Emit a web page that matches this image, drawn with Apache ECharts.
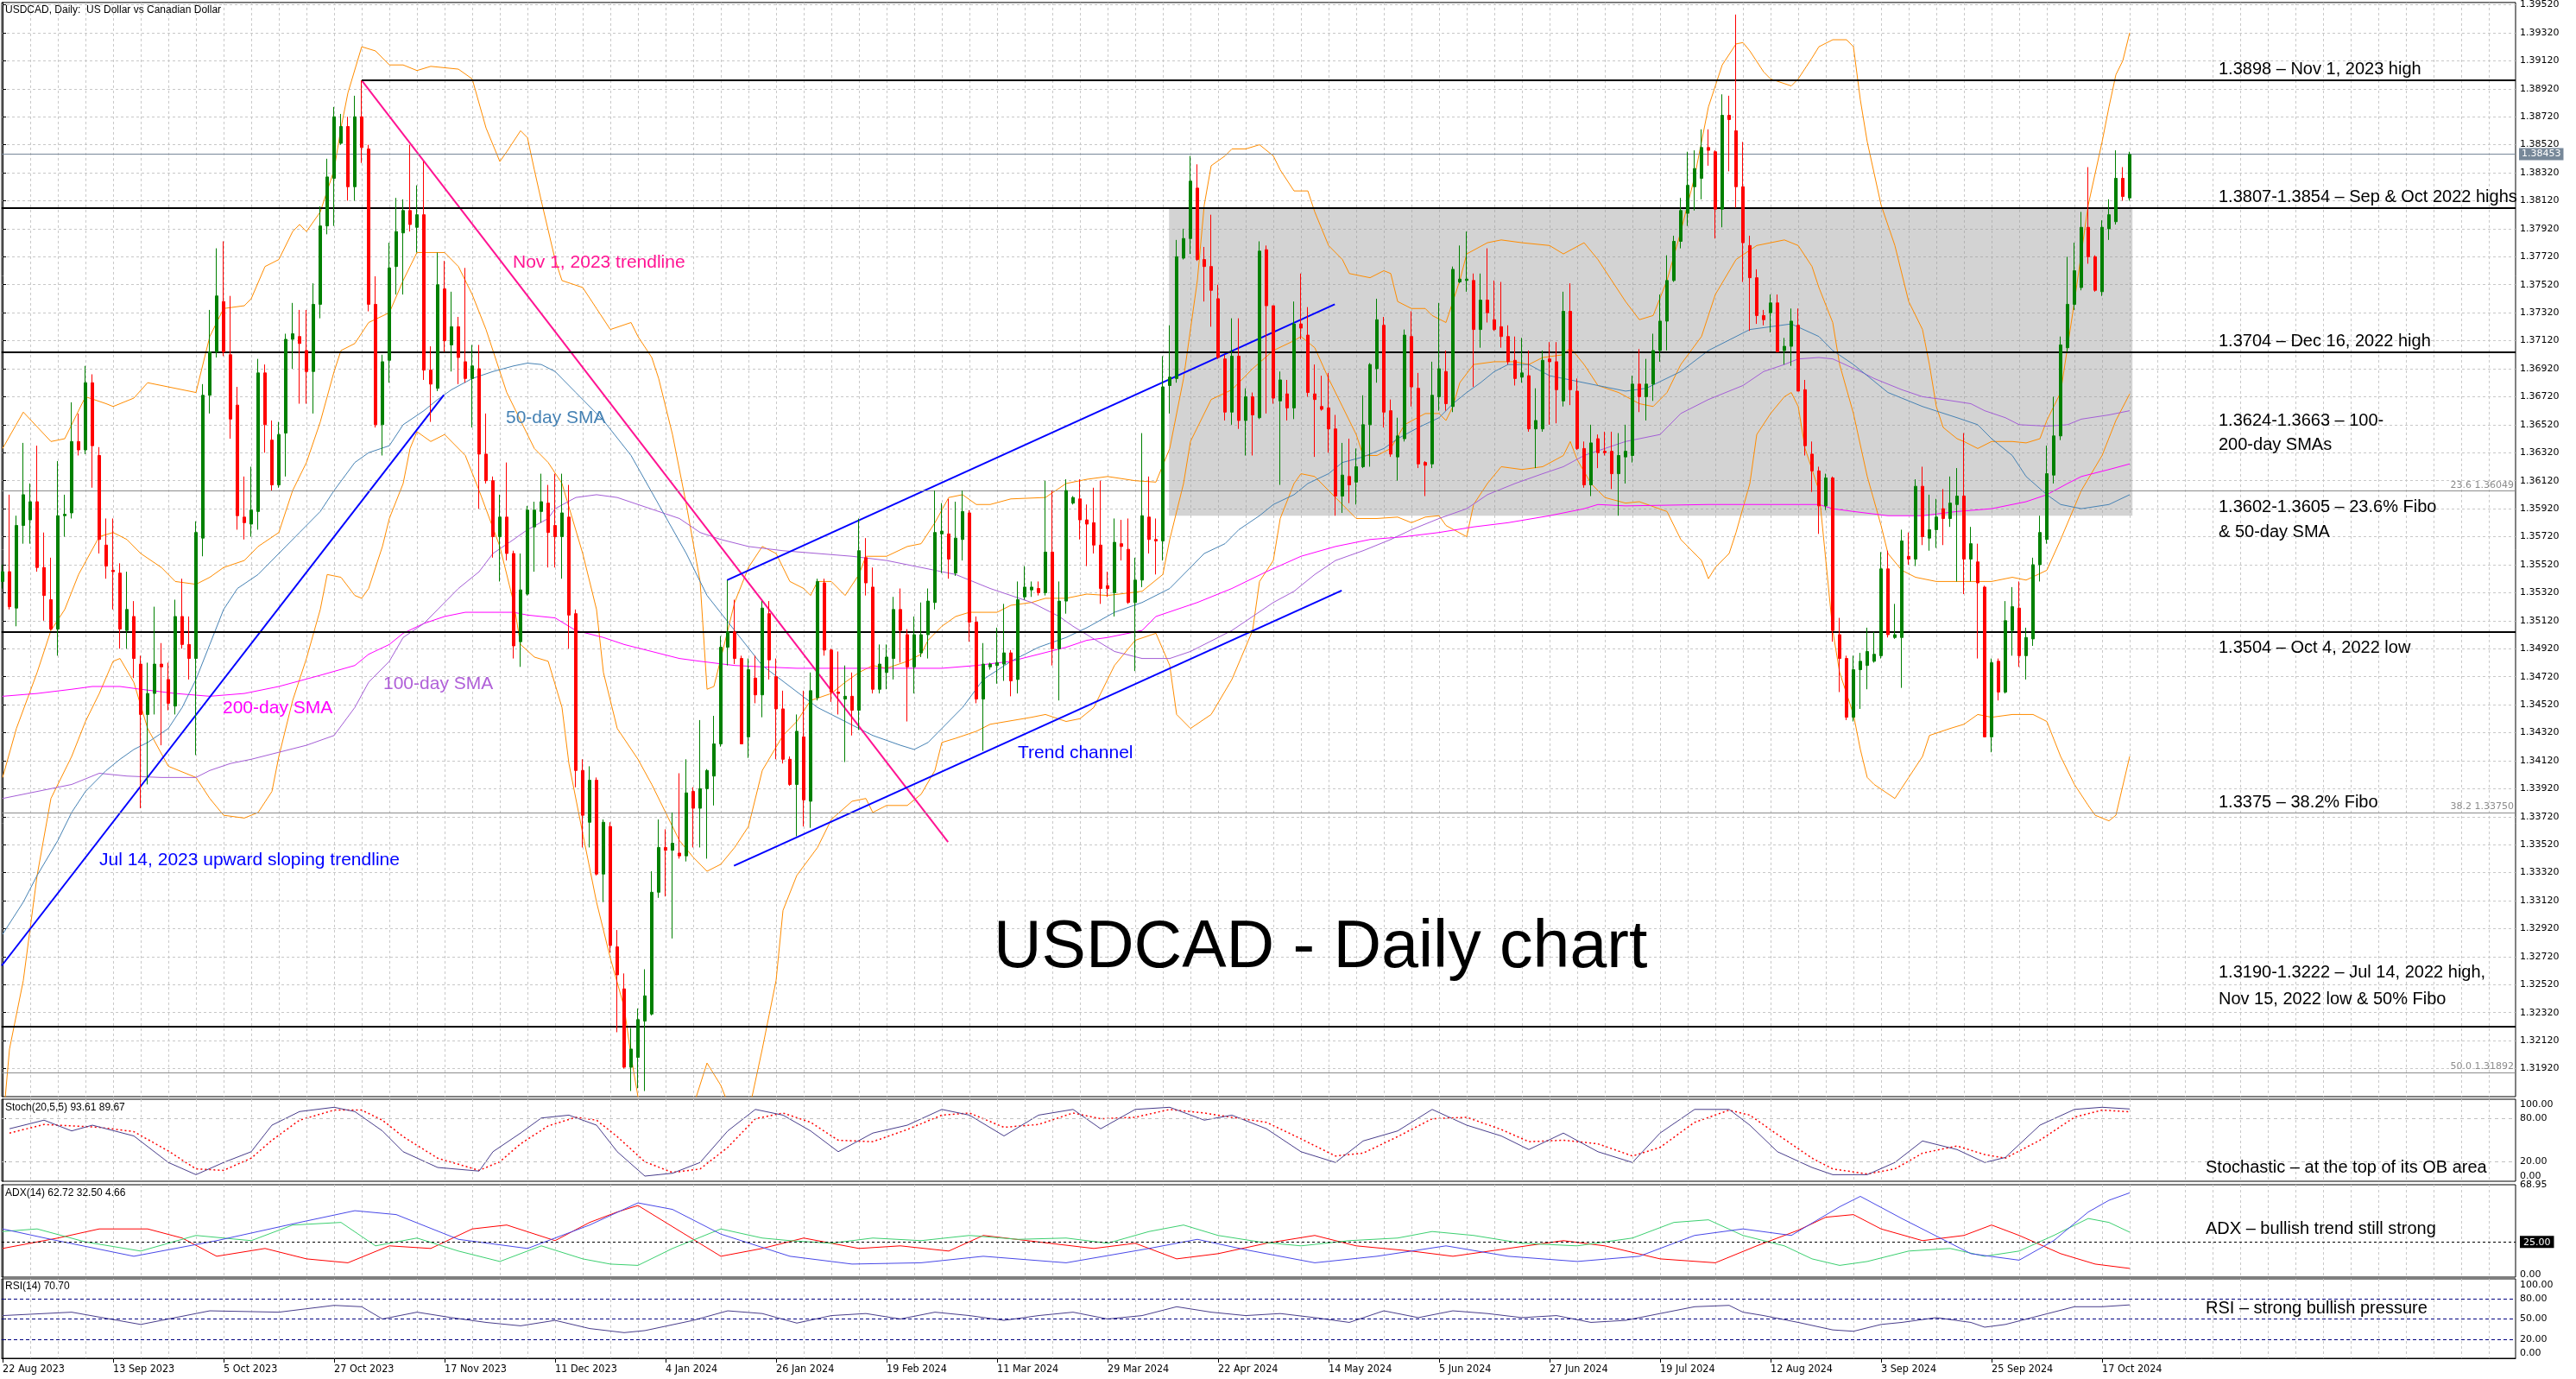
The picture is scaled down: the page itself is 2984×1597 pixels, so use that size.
<!DOCTYPE html>
<html><head><meta charset="utf-8">
<script src="https://cdn.jsdelivr.net/npm/echarts@6/dist/echarts.min.js"></script>
<style>html,body{margin:0;padding:0;background:#fff}#c{width:2984px;height:1597px}</style>
</head><body><div id="c"></div>
<script>
// ---------- DATA ----------
const tickLabels = ['22 Aug 2023','13 Sep 2023','5 Oct 2023','27 Oct 2023','17 Nov 2023','11 Dec 2023','4 Jan 2024','26 Jan 2024','19 Feb 2024','11 Mar 2024','29 Mar 2024','22 Apr 2024','14 May 2024','5 Jun 2024','27 Jun 2024','19 Jul 2024','12 Aug 2024','3 Sep 2024','25 Sep 2024','17 Oct 2024'];
const tickIdx = [0,16,32,48,64,80,96,112,128,144,160,176,192,208,224,240,256,272,288,304];
const yTicks = [1.3192,1.3212,1.3232,1.3252,1.3272,1.3292,1.3312,1.3332,1.3352,1.3372,1.3392,1.3412,1.3432,1.3452,1.3472,1.3492,1.3512,1.3532,1.3552,1.3572,1.3592,1.3612,1.3632,1.3652,1.3672,1.3692,1.3712,1.3732,1.3752,1.3772,1.3792,1.3812,1.3832,1.3852,1.3872,1.3892,1.3912,1.3932,1.3952];

// daily candles [open, close, low, high]
const ohlc = [
[1.3540,1.3547,1.3535,1.3552],[1.3547,1.3522,1.3520,1.3602],[1.3521,1.3580,1.3508,1.3587],[1.3580,1.3602,1.3567,1.3639],[1.3584,1.3597,1.3567,1.3610],
[1.3597,1.3550,1.3547,1.3637],[1.3550,1.3530,1.3512,1.3575],[1.3527,1.3506,1.3505,1.3557],[1.3506,1.3587,1.3487,1.3626],[1.3587,1.3588,1.3572,1.3602],
[1.3589,1.3640,1.3585,1.3668],[1.3640,1.3634,1.3630,1.3660],[1.3634,1.3682,1.3631,1.3694],[1.3682,1.3637,1.3607,1.3688],[1.3630,1.3570,1.3560,1.3636],
[1.3566,1.3551,1.3542,1.3585],[1.3548,1.3547,1.3520,1.3585],[1.3546,1.3506,1.3492,1.3553],[1.3505,1.3520,1.3492,1.3547],[1.3515,1.3485,1.3471,1.3526],
[1.3481,1.3445,1.3378,1.3487],[1.3445,1.3460,1.3395,1.3482],[1.3460,1.3481,1.3445,1.3522],[1.3481,1.3479,1.3423,1.3496],[1.3470,1.3453,1.3448,1.3482],
[1.3451,1.3515,1.3445,1.3527],[1.3515,1.3495,1.3492,1.3542],[1.3495,1.3485,1.3470,1.3515],[1.3485,1.3575,1.3416,1.3583],[1.3571,1.3673,1.3558,1.3681],
[1.3673,1.3704,1.3660,1.3734],[1.3704,1.3744,1.3700,1.3778],[1.3740,1.3704,1.3701,1.3783],[1.3702,1.3656,1.3642,1.3744],[1.3666,1.3587,1.3577,1.3679],
[1.3586,1.3582,1.3570,1.3615],[1.3581,1.3591,1.3572,1.3622],[1.3590,1.3689,1.3577,1.3699],[1.3689,1.3652,1.3632,1.3695],[1.3641,1.3609,1.3605,1.3655],
[1.3609,1.3645,1.3607,1.3654],[1.3646,1.3713,1.3615,1.3717],[1.3713,1.3717,1.3692,1.3739],[1.3715,1.3710,1.3667,1.3734],[1.3705,1.3690,1.3667,1.3734],
[1.3690,1.3738,1.3660,1.3753],[1.3738,1.3794,1.3728,1.3808],[1.3794,1.3829,1.3788,1.3842],[1.3828,1.3872,1.3794,1.3879],[1.3853,1.3865,1.3852,1.3874],
[1.3865,1.3822,1.3812,1.3872],[1.3822,1.3872,1.3812,1.3887],[1.3872,1.3850,1.3839,1.3898],[1.3849,1.3738,1.3733,1.3852],[1.3738,1.3652,1.3650,1.3758],
[1.3652,1.3697,1.3630,1.3702],[1.3698,1.3764,1.3682,1.3782],[1.3765,1.3790,1.3745,1.3814],[1.3789,1.3805,1.3745,1.3813],[1.3805,1.3795,1.3790,1.3852],
[1.3793,1.3802,1.3775,1.3823],[1.3802,1.3691,1.3684,1.3840],[1.3691,1.3681,1.3654,1.3708],[1.3678,1.3752,1.3676,1.3775],[1.3749,1.3712,1.3704,1.3769],
[1.3709,1.3722,1.3690,1.3747],[1.3722,1.3700,1.3681,1.3729],[1.3697,1.3685,1.3682,1.3764],[1.3685,1.3694,1.3650,1.3709],[1.3692,1.3631,1.3592,1.3709],
[1.3631,1.3612,1.3610,1.3660],[1.3612,1.3572,1.3557,1.3615],[1.3572,1.3586,1.3540,1.3602],[1.3586,1.3560,1.3555,1.3625],[1.3560,1.3494,1.3485,1.3562],
[1.3497,1.3534,1.3479,1.3560],[1.3531,1.3591,1.3530,1.3594],[1.3579,1.3591,1.3547,1.3597],[1.3590,1.3597,1.3582,1.3617],[1.3596,1.3575,1.3550,1.3609],
[1.3580,1.3572,1.3550,1.3617],[1.3572,1.3589,1.3542,1.3617],[1.3586,1.3516,1.3492,1.3609],[1.3517,1.3405,1.3393,1.3520],[1.3405,1.3373,1.3350,1.3413],
[1.3368,1.3398,1.3350,1.3408],[1.3398,1.3331,1.3330,1.3400],[1.3331,1.3368,1.3311,1.3370],[1.3365,1.3280,1.3275,1.3368],[1.3279,1.3259,1.3218,1.3291],
[1.3249,1.3193,1.3192,1.3260],[1.3193,1.3206,1.3176,1.3221],[1.3200,1.3227,1.3178,1.3235],[1.3226,1.3244,1.3176,1.3263],[1.3231,1.3318,1.3230,1.3333],
[1.3318,1.3350,1.3314,1.3370],[1.3350,1.3348,1.3315,1.3363],[1.3348,1.3353,1.3285,1.3375],[1.3346,1.3344,1.3342,1.3403],[1.3344,1.3389,1.3340,1.3413],
[1.3390,1.3378,1.3350,1.3393],[1.3378,1.3392,1.3350,1.3441],[1.3392,1.3405,1.3342,1.3406],[1.3401,1.3424,1.3380,1.3444],[1.3424,1.3493,1.3422,1.3501],
[1.3493,1.3504,1.3480,1.3541],[1.3504,1.3485,1.3481,1.3527],[1.3485,1.3424,1.3424,1.3487],[1.3429,1.3477,1.3414,1.3485],[1.3471,1.3459,1.3453,1.3487],
[1.3459,1.3521,1.3443,1.3526],[1.3517,1.3484,1.3470,1.3526],[1.3472,1.3449,1.3413,1.3485],[1.3449,1.3413,1.3410,1.3462],[1.3413,1.3395,1.3394,1.3415],
[1.3395,1.3433,1.3358,1.3445],[1.3429,1.3384,1.3365,1.3462],[1.3383,1.3462,1.3364,1.3475],[1.3457,1.3540,1.3455,1.3542],[1.3539,1.3491,1.3487,1.3542],
[1.3491,1.3461,1.3454,1.3492],[1.3461,1.3460,1.3445,1.3490],[1.3456,1.3458,1.3411,1.3480],[1.3458,1.3448,1.3430,1.3475],[1.3448,1.3562,1.3434,1.3585],
[1.3557,1.3539,1.3530,1.3571],[1.3536,1.3463,1.3460,1.3550],[1.3463,1.3481,1.3460,1.3495],[1.3475,1.3486,1.3463,1.3495],[1.3485,1.3520,1.3470,1.3529],
[1.3520,1.3505,1.3482,1.3535],[1.3502,1.3479,1.3440,1.3506],[1.3479,1.3502,1.3460,1.3515],[1.3489,1.3502,1.3486,1.3525],[1.3502,1.3526,1.3485,1.3535],
[1.3525,1.3575,1.3520,1.3605],[1.3574,1.3576,1.3546,1.3596],[1.3574,1.3556,1.3542,1.3599],[1.3546,1.3571,1.3544,1.3597],[1.3570,1.3590,1.3555,1.3605],
[1.3589,1.3511,1.3497,1.3591],[1.3511,1.3456,1.3453,1.3515],[1.3456,1.3481,1.3419,1.3496],[1.3479,1.3481,1.3477,1.3482],[1.3480,1.3482,1.3467,1.3507],
[1.3481,1.3489,1.3469,1.3524],[1.3489,1.3469,1.3458,1.3491],[1.3470,1.3527,1.3460,1.3540],[1.3529,1.3536,1.3527,1.3551],[1.3534,1.3536,1.3529,1.3540],
[1.3535,1.3532,1.3530,1.3540],[1.3532,1.3561,1.3530,1.3612],[1.3561,1.3492,1.3480,1.3605],[1.3492,1.3526,1.3455,1.3540],[1.3526,1.3605,1.3517,1.3613],
[1.3596,1.3600,1.3595,1.3601],[1.3599,1.3584,1.3570,1.3613],[1.3584,1.3581,1.3551,1.3595],[1.3582,1.3566,1.3560,1.3607],[1.3566,1.3535,1.3524,1.3612],
[1.3537,1.3535,1.3529,1.3547],[1.3532,1.3568,1.3515,1.3585],[1.3567,1.3565,1.3555,1.3584],[1.3563,1.3525,1.3524,1.3585],[1.3525,1.3541,1.3476,1.3557],
[1.3541,1.3587,1.3536,1.3646],[1.3586,1.3570,1.3560,1.3615],[1.3570,1.3569,1.3545,1.3585],[1.3569,1.3679,1.3555,1.3701],[1.3680,1.3686,1.3660,1.3723],
[1.3685,1.3772,1.3682,1.3784],[1.3771,1.3785,1.3770,1.3792],[1.3785,1.3826,1.3774,1.3844],[1.3821,1.3770,1.3769,1.3838],[1.3770,1.3765,1.3740,1.3779],
[1.3765,1.3748,1.3722,1.3802],[1.3742,1.3700,1.3699,1.3752],[1.3699,1.3661,1.3655,1.3702],[1.3661,1.3701,1.3652,1.3728],[1.3701,1.3655,1.3649,1.3728],
[1.3655,1.3672,1.3630,1.3678],[1.3672,1.3659,1.3630,1.3675],[1.3657,1.3776,1.3656,1.3783],[1.3777,1.3737,1.3660,1.3780],[1.3737,1.3671,1.3667,1.3737],
[1.3669,1.3684,1.3609,1.3690],[1.3674,1.3664,1.3655,1.3684],[1.3664,1.3724,1.3656,1.3740],[1.3724,1.3721,1.3713,1.3760],[1.3716,1.3675,1.3672,1.3736],
[1.3674,1.3670,1.3629,1.3695],[1.3665,1.3663,1.3662,1.3687],[1.3664,1.3649,1.3632,1.3689],[1.3649,1.3601,1.3587,1.3659],[1.3601,1.3616,1.3589,1.3639],
[1.3615,1.3609,1.3596,1.3642],[1.3611,1.3622,1.3595,1.3635],[1.3622,1.3652,1.3621,1.3673],[1.3652,1.3695,1.3622,1.3696],[1.3692,1.3727,1.3682,1.3742],
[1.3723,1.3661,1.3650,1.3729],[1.3662,1.3631,1.3629,1.3670],[1.3629,1.3644,1.3612,1.3657],[1.3642,1.3716,1.3640,1.3720],[1.3715,1.3679,1.3665,1.3733],
[1.3678,1.3624,1.3621,1.3689],[1.3625,1.3623,1.3601,1.3626],[1.3624,1.3673,1.3621,1.3697],[1.3672,1.3692,1.3662,1.3739],[1.3690,1.3667,1.3662,1.3705],
[1.3665,1.3763,1.3661,1.3765],[1.3754,1.3756,1.3753,1.3780],[1.3755,1.3756,1.3747,1.3790],[1.3755,1.3720,1.3679,1.3760],[1.3720,1.3741,1.3707,1.3760],
[1.3741,1.3732,1.3725,1.3778],[1.3727,1.3720,1.3719,1.3755],[1.3722,1.3715,1.3707,1.3754],[1.3715,1.3697,1.3695,1.3723],[1.3698,1.3685,1.3680,1.3715],
[1.3686,1.3689,1.3682,1.3714],[1.3687,1.3649,1.3647,1.3705],[1.3649,1.3655,1.3621,1.3678],[1.3649,1.3698,1.3647,1.3705],[1.3699,1.3697,1.3652,1.3711],
[1.3697,1.3677,1.3653,1.3711],[1.3669,1.3733,1.3665,1.3747],[1.3733,1.3677,1.3666,1.3753],[1.3676,1.3635,1.3634,1.3685],[1.3635,1.3609,1.3607,1.3640],
[1.3609,1.3639,1.3601,1.3652],[1.3642,1.3632,1.3621,1.3645],[1.3633,1.3632,1.3630,1.3647],[1.3633,1.3617,1.3606,1.3647],[1.3617,1.3630,1.3587,1.3646],
[1.3629,1.3633,1.3610,1.3652],[1.3630,1.3681,1.3625,1.3687],[1.3681,1.3672,1.3661,1.3706],[1.3672,1.3681,1.3655,1.3699],[1.3681,1.3705,1.3669,1.3717],
[1.3705,1.3726,1.3697,1.3745],[1.3726,1.3755,1.3705,1.3773],[1.3755,1.3783,1.3754,1.3787],[1.3783,1.3805,1.3778,1.3814],[1.3803,1.3823,1.3794,1.3847],
[1.3822,1.3835,1.3805,1.3848],[1.3828,1.3850,1.3813,1.3863],[1.3850,1.3848,1.3837,1.3863],[1.3847,1.3806,1.3785,1.3848],[1.3806,1.3873,1.3793,1.3888],
[1.3873,1.3870,1.3833,1.3887],[1.3862,1.3822,1.3807,1.3945],[1.3822,1.3782,1.3754,1.3854],[1.3780,1.3757,1.3719,1.3787],[1.3757,1.3730,1.3724,1.3763],
[1.3730,1.3727,1.3723,1.3734],[1.3732,1.3739,1.3718,1.3745],[1.3739,1.3704,1.3704,1.3745],[1.3705,1.3708,1.3695,1.3714],[1.3708,1.3726,1.3694,1.3735],
[1.3723,1.3676,1.3676,1.3735],[1.3677,1.3637,1.3630,1.3684],[1.3631,1.3619,1.3604,1.3640],[1.3619,1.3594,1.3574,1.3622],[1.3594,1.3614,1.3591,1.3617],
[1.3614,1.3505,1.3497,1.3615],[1.3502,1.3485,1.3461,1.3514],[1.3485,1.3443,1.3441,1.3487],[1.3443,1.3477,1.3440,1.3487],[1.3477,1.3483,1.3449,1.3489],
[1.3480,1.3490,1.3463,1.3507],[1.3483,1.3488,1.3482,1.3504],[1.3487,1.3549,1.3485,1.3561],[1.3549,1.3502,1.3500,1.3562],[1.3500,1.3502,1.3499,1.3524],
[1.3500,1.3569,1.3464,1.3577],[1.3558,1.3556,1.3552,1.3575],[1.3556,1.3608,1.3551,1.3613],[1.3608,1.3572,1.3566,1.3622],[1.3571,1.3577,1.3562,1.3602],
[1.3577,1.3586,1.3564,1.3599],[1.3592,1.3585,1.3566,1.3606],[1.3585,1.3596,1.3579,1.3615],[1.3595,1.3601,1.3540,1.3621],[1.3601,1.3556,1.3531,1.3646],
[1.3556,1.3567,1.3540,1.3579],[1.3554,1.3539,1.3485,1.3567],[1.3536,1.3429,1.3429,1.3537],[1.3429,1.3482,1.3418,1.3485],[1.3483,1.3461,1.3455,1.3485],
[1.3461,1.3512,1.3460,1.3526],[1.3505,1.3522,1.3487,1.3536],[1.3521,1.3487,1.3479,1.3540],[1.3487,1.3500,1.3470,1.3507],[1.3499,1.3552,1.3494,1.3557],
[1.3552,1.3575,1.3540,1.3587],[1.3570,1.3617,1.3567,1.3637],[1.3616,1.3644,1.3610,1.3672],[1.3644,1.3709,1.3641,1.3715],[1.3707,1.3738,1.3704,1.3772],
[1.3738,1.3762,1.3734,1.3782],[1.3750,1.3793,1.3748,1.3804],[1.3793,1.3772,1.3767,1.3836],[1.3772,1.3748,1.3747,1.3773],[1.3747,1.3793,1.3744,1.3798],
[1.3792,1.3802,1.3784,1.3813],[1.3797,1.3828,1.3795,1.3848],[1.3828,1.3815,1.3812,1.3836],[1.3814,1.3845,1.3812,1.3847]
];

// Bollinger bands (20,2) read as [bar, price]
const bbUpper = [[0,1.3635],[3,1.3661],[7,1.3640],[9,1.3642],[12,1.3672],[15,1.3667],[16,1.3665],[19,1.3671],[21,1.3682],[22,1.3681],[28,1.3675],[30,1.3715],[32,1.3735],[35,1.3737],[36,1.3742],[38,1.3765],[40,1.3770],[42,1.3790],[43,1.3795],[44,1.3790],[46,1.3804],[48,1.3834],[49,1.3864],[50,1.3889],[52,1.3922],[54,1.3919],[56,1.3909],[58,1.3909],[60,1.3905],[62,1.3908],[64,1.3907],[66,1.3906],[68,1.3899],[70,1.3864],[72,1.3840],[73,1.3847],[75,1.3862],[76,1.3857],[77,1.3834],[78,1.3812],[80,1.3770],[81,1.3755],[84,1.3750],[86,1.3735],[88,1.3720],[91,1.3725],[92,1.3715],[94,1.3700],[95,1.3685],[97,1.3645],[99,1.3595],[101,1.3540],[102,1.3463],[103,1.3465],[105,1.3505],[106,1.3525],[108,1.3550],[110,1.3565],[112,1.3560],[113,1.3550],[114,1.3540],[116,1.3535],[117,1.3530],[118,1.3540],[120,1.3540],[122,1.3530],[124,1.3545],[125,1.3558],[128,1.3558],[131,1.3565],[133,1.3567],[135,1.3582],[137,1.3600],[139,1.3602],[141,1.3595],[143,1.3595],[146,1.3599],[151,1.3600],[154,1.3610],[157,1.3613],[160,1.3615],[164,1.3612],[167,1.3611],[169,1.3635],[171,1.3685],[173,1.3755],[174,1.3809],[175,1.3837],[177,1.3844],[178,1.3849],[180,1.3849],[182,1.3852],[184,1.3844],[185,1.3834],[187,1.3819],[189,1.3819],[190,1.3804],[192,1.3780],[194,1.3770],[195,1.3760],[198,1.3757],[200,1.3762],[201,1.3760],[202,1.3740],[204,1.3735],[206,1.3735],[207,1.3730],[209,1.3725],[211,1.3755],[212,1.3774],[215,1.3782],[217,1.3784],[220,1.3782],[224,1.3780],[226,1.3774],[229,1.3782],[231,1.3770],[233,1.3755],[235,1.3740],[237,1.3727],[239,1.3730],[241,1.3755],[243,1.3790],[245,1.3829],[247,1.3879],[249,1.3909],[251,1.3924],[252,1.3925],[253,1.3919],[255,1.3904],[256,1.3899],[259,1.3894],[260,1.3899],[262,1.3914],[263,1.3922],[265,1.3927],[267,1.3927],[268,1.3922],[269,1.3884],[270,1.3854],[272,1.3809],[274,1.3780],[276,1.3740],[278,1.3720],[279,1.3695],[280,1.3665],[281,1.3650],[283,1.3642],[284,1.3640],[286,1.3635],[288,1.3640],[291,1.3640],[293,1.3639],[295,1.3642],[296,1.3655],[298,1.3675],[300,1.3740],[302,1.3809],[304,1.3854],[305,1.3879],[306,1.3902],[307,1.3912],[308,1.3932]];
const bbMid = [[0,1.3400],[2,1.3435],[5,1.3475],[7,1.3505],[9,1.3520],[11,1.3545],[14,1.3572],[16,1.3575],[18,1.3570],[20,1.3560],[23,1.3550],[25,1.3540],[28,1.3538],[30,1.3543],[32,1.3550],[35,1.3555],[37,1.3565],[40,1.3575],[42,1.3605],[44,1.3625],[46,1.3654],[48,1.3690],[49,1.3705],[51,1.3710],[53,1.3725],[56,1.3732],[58,1.3755],[60,1.3775],[64,1.3775],[66,1.3765],[68,1.3745],[70,1.3720],[73,1.3675],[77,1.3635],[79,1.3625],[81,1.3610],[84,1.3560],[86,1.3520],[87,1.3475],[89,1.3435],[92,1.3413],[94,1.3395],[96,1.3375],[98,1.3355],[100,1.3343],[102,1.3333],[104,1.3338],[106,1.3350],[108,1.3365],[110,1.3405],[113,1.3430],[115,1.3440],[117,1.3455],[120,1.3460],[122,1.3468],[124,1.3475],[126,1.3480],[128,1.3478],[131,1.3483],[133,1.3488],[134,1.3498],[136,1.3508],[138,1.3515],[140,1.3518],[144,1.3518],[146,1.3523],[149,1.3525],[151,1.3528],[154,1.3528],[157,1.3531],[160,1.3530],[165,1.3533],[168,1.3545],[169,1.3570],[171,1.3610],[172,1.3640],[175,1.3670],[178,1.3677],[181,1.3692],[184,1.3705],[187,1.3712],[188,1.3715],[190,1.3707],[192,1.3685],[194,1.3665],[196,1.3645],[197,1.3630],[199,1.3630],[201,1.3635],[203,1.3652],[206,1.3660],[208,1.3660],[209,1.3655],[210,1.3665],[211,1.3682],[213,1.3695],[216,1.3697],[219,1.3697],[221,1.3695],[223,1.3700],[226,1.3702],[227,1.3707],[229,1.3695],[231,1.3680],[234,1.3675],[237,1.3667],[239,1.3665],[241,1.3675],[243,1.3695],[246,1.3715],[248,1.3745],[251,1.3770],[254,1.3780],[256,1.3782],[258,1.3784],[260,1.3780],[262,1.3765],[263,1.3750],[265,1.3725],[266,1.3695],[268,1.3660],[270,1.3615],[272,1.3580],[273,1.3560],[275,1.3548],[277,1.3543],[280,1.3540],[283,1.3540],[288,1.3540],[291,1.3543],[293,1.3541],[296,1.3548],[298,1.3570],[301,1.3605],[304,1.3630],[306,1.3655],[308,1.3674]];
const bbLower = [[0,1.3150],[1,1.3206],[3,1.3255],[5,1.3330],[7,1.3385],[10,1.3415],[12,1.3440],[14,1.3460],[16,1.3483],[17,1.3485],[19,1.3468],[21,1.3435],[24,1.3408],[28,1.3400],[30,1.3385],[32,1.3373],[35,1.3371],[37,1.3375],[39,1.3390],[40,1.3415],[42,1.3455],[44,1.3485],[46,1.3520],[47,1.3545],[49,1.3543],[51,1.3530],[52,1.3528],[53,1.3535],[55,1.3565],[56,1.3585],[58,1.3610],[59,1.3635],[60,1.3647],[62,1.3640],[64,1.3645],[67,1.3630],[69,1.3605],[72,1.3565],[74,1.3525],[75,1.3495],[77,1.3486],[79,1.3483],[81,1.3450],[82,1.3410],[84,1.3360],[86,1.3311],[88,1.3271],[90,1.3236],[91,1.3201],[92,1.3172],[94,1.3145],[97,1.3135],[100,1.3165],[102,1.3196],[104,1.3180],[106,1.3155],[108,1.3160],[110,1.3206],[112,1.3255],[113,1.3305],[115,1.3330],[118,1.3350],[120,1.3370],[123,1.3383],[125,1.3385],[126,1.3375],[128,1.3380],[131,1.3380],[133,1.3388],[135,1.3405],[136,1.3425],[138,1.3428],[141,1.3433],[143,1.3438],[149,1.3443],[151,1.3445],[154,1.3440],[156,1.3442],[158,1.3450],[161,1.3480],[164,1.3498],[167,1.3503],[169,1.3480],[170,1.3445],[172,1.3435],[175,1.3445],[178,1.3470],[181,1.3505],[182,1.3540],[184,1.3555],[185,1.3585],[187,1.3610],[188,1.3617],[190,1.3615],[192,1.3605],[194,1.3595],[196,1.3585],[199,1.3585],[202,1.3586],[204,1.3582],[206,1.3586],[208,1.3587],[209,1.3580],[212,1.3572],[213,1.3595],[215,1.3610],[217,1.3622],[220,1.3620],[223,1.3622],[226,1.3630],[227,1.3640],[228,1.3627],[230,1.3610],[232,1.3600],[235,1.3596],[237,1.3597],[241,1.3590],[243,1.3570],[246,1.3555],[247,1.3542],[248,1.3550],[250,1.3560],[251,1.3575],[253,1.3610],[254,1.3645],[256,1.3660],[258,1.3672],[259,1.3675],[260,1.3665],[261,1.3635],[263,1.3605],[264,1.3555],[265,1.3505],[266,1.3475],[268,1.3445],[269,1.3420],[270,1.3400],[271,1.3395],[274,1.3385],[276,1.3400],[278,1.3415],[279,1.3430],[282,1.3435],[284,1.3438],[286,1.3445],[288,1.3443],[291,1.3445],[294,1.3445],[296,1.3440],[298,1.3415],[300,1.3395],[302,1.3380],[303,1.3373],[305,1.3369],[306,1.3373],[308,1.3415]];

// moving averages [bar, price]
const sma50 = [[0,1.3288],[3,1.3311],[5,1.3330],[8,1.3355],[10,1.3375],[12,1.3390],[15,1.3405],[17,1.3413],[19,1.3420],[21,1.3425],[24,1.3435],[26,1.3450],[28,1.3470],[30,1.3495],[32,1.3520],[34,1.3535],[37,1.3545],[39,1.3555],[41,1.3565],[43,1.3575],[46,1.3590],[48,1.3605],[51,1.3625],[53,1.3632],[56,1.3637],[58,1.3652],[61,1.3662],[63,1.3670],[65,1.3677],[68,1.3685],[71,1.3690],[74,1.3694],[76,1.3696],[78,1.3695],[80,1.3690],[83,1.3675],[87,1.3655],[91,1.3630],[95,1.3595],[99,1.3560],[102,1.3530],[106,1.3505],[110,1.3480],[114,1.3465],[118,1.3450],[122,1.3440],[126,1.3430],[130,1.3423],[132,1.3420],[134,1.3425],[136,1.3435],[139,1.3450],[142,1.3470],[146,1.3483],[150,1.3493],[154,1.3500],[157,1.3507],[161,1.3518],[165,1.3525],[169,1.3535],[172,1.3550],[174,1.3560],[177,1.3567],[179,1.3577],[182,1.3587],[184,1.3595],[187,1.3602],[189,1.3610],[192,1.3617],[194,1.3625],[197,1.3629],[200,1.3635],[202,1.3642],[205,1.3650],[208,1.3657],[210,1.3667],[212,1.3675],[214,1.3682],[216,1.3690],[218,1.3695],[221,1.3695],[224,1.3687],[226,1.3685],[229,1.3682],[231,1.3680],[235,1.3676],[238,1.3678],[243,1.3690],[247,1.3705],[253,1.3720],[256,1.3722],[259,1.3724],[263,1.3715],[265,1.3705],[268,1.3695],[273,1.3675],[278,1.3665],[283,1.3657],[286,1.3652],[288,1.3642],[291,1.3630],[293,1.3615],[296,1.3602],[298,1.3595],[301,1.3592],[305,1.3595],[308,1.3602]];
const sma100 = [[0,1.3385],[5,1.3390],[10,1.3395],[14,1.3403],[18,1.3401],[23,1.3400],[28,1.3400],[30,1.3405],[33,1.3410],[36,1.3413],[40,1.3418],[44,1.3423],[48,1.3430],[51,1.3450],[53,1.3468],[56,1.3483],[58,1.3500],[61,1.3510],[63,1.3520],[66,1.3535],[69,1.3547],[71,1.3560],[74,1.3570],[76,1.3577],[79,1.3585],[80,1.3592],[83,1.3600],[86,1.3602],[89,1.3600],[92,1.3595],[95,1.3590],[98,1.3585],[101,1.3575],[104,1.3570],[108,1.3565],[113,1.3562],[118,1.3560],[123,1.3558],[128,1.3555],[133,1.3550],[138,1.3545],[143,1.3535],[149,1.3525],[153,1.3515],[155,1.3508],[157,1.3502],[161,1.3490],[165,1.3485],[169,1.3485],[172,1.3490],[174,1.3495],[178,1.3505],[181,1.3515],[184,1.3525],[187,1.3533],[190,1.3545],[193,1.3555],[197,1.3562],[201,1.3570],[204,1.3577],[208,1.3585],[212,1.3592],[215,1.3602],[219,1.3610],[223,1.3617],[226,1.3622],[229,1.3630],[232,1.3635],[235,1.3640],[240,1.3645],[243,1.3660],[247,1.3670],[252,1.3680],[255,1.3690],[258,1.3695],[260,1.3699],[263,1.3700],[265,1.3699],[269,1.3690],[271,1.3685],[275,1.3677],[278,1.3672],[281,1.3670],[285,1.3667],[287,1.3662],[290,1.3657],[292,1.3652],[296,1.3651],[299,1.3652],[301,1.3656],[305,1.3659],[308,1.3662]];
const sma200 = [[0,1.3458],[5,1.3460],[10,1.3463],[13,1.3465],[17,1.3465],[20,1.3463],[25,1.3460],[30,1.3458],[35,1.3460],[40,1.3465],[46,1.3473],[51,1.3480],[53,1.3488],[56,1.3495],[58,1.3503],[61,1.3510],[64,1.3515],[67,1.3518],[71,1.3518],[74,1.3518],[76,1.3516],[80,1.3514],[83,1.3505],[87,1.3500],[90,1.3495],[94,1.3490],[98,1.3485],[101,1.3483],[106,1.3480],[110,1.3479],[115,1.3478],[121,1.3478],[126,1.3478],[131,1.3478],[136,1.3478],[141,1.3480],[146,1.3483],[150,1.3488],[154,1.3493],[157,1.3498],[160,1.3500],[165,1.3505],[167,1.3515],[173,1.3525],[178,1.3535],[183,1.3547],[188,1.3558],[193,1.3565],[198,1.3570],[203,1.3572],[208,1.3575],[213,1.3579],[218,1.3582],[224,1.3587],[229,1.3592],[231,1.3595],[235,1.3594],[247,1.3595],[263,1.3595],[265,1.3592],[268,1.3590],[273,1.3587],[278,1.3587],[283,1.3590],[288,1.3592],[293,1.3597],[296,1.3602],[299,1.3610],[301,1.3615],[305,1.3620],[308,1.3624]];

// drawn objects: [bar, price] endpoints
const julTrend = [[-0.125,1.32656],[63.9,1.36733]];
const novTrend = [[52,1.3898],[136.9,1.33539]];
const chanUpper = [[104.9,1.3541],[192.9,1.3738]];
const chanLower = [[105.9,1.33369],[193.9,1.35335]];
const boxZone = [[168.9,1.3587],[308.4,1.3807]];
const srLevels = [1.3807,1.3704,1.3504,1.3222];
const novHigh = [52,1.3898];
const fiboLevels = [[1.36049,'23.6 1.36049'],[1.33750,'38.2 1.33750'],[1.31892,'50.0 1.31892']];
const lastPrice = 1.38453;

// indicators [bar, value]
const stochK = [[1,66],[6,78],[10,63],[13,71],[19,56],[24,19],[28,2],[32,19],[36,34],[39,71],[43,90],[48,96],[51,90],[55,63],[58,34],[63,12],[69,7],[71,34],[75,60],[78,81],[82,85],[86,71],[89,34],[93,0],[97,4],[101,19],[105,63],[109,93],[113,85],[117,63],[121,34],[126,60],[131,71],[136,93],[140,85],[145,56],[150,85],[155,93],[159,66],[164,93],[169,96],[174,78],[178,85],[183,66],[188,34],[193,19],[197,49],[202,63],[207,93],[212,71],[217,56],[221,37],[226,60],[231,34],[236,19],[240,60],[245,93],[250,93],[253,71],[257,34],[262,12],[265,2],[270,2],[274,19],[278,49],[283,37],[287,19],[290,26],[295,71],[300,93],[304,96],[308,93.61]];
const stochD = [[1,60],[6,72],[10,70],[14,68],[19,62],[24,35],[28,10],[32,8],[36,25],[39,50],[43,78],[48,92],[52,92],[55,78],[58,55],[63,25],[69,8],[72,20],[75,45],[79,70],[83,82],[86,78],[89,55],[93,20],[97,5],[101,10],[105,40],[109,80],[113,88],[117,75],[121,50],[126,48],[131,65],[136,85],[140,88],[145,68],[150,72],[155,88],[159,80],[164,82],[169,93],[174,88],[178,82],[183,75],[188,52],[193,28],[197,32],[202,55],[207,80],[212,82],[217,65],[221,48],[226,50],[231,45],[236,28],[240,40],[245,75],[250,92],[253,85],[257,58],[262,25],[265,10],[270,3],[274,10],[278,32],[283,42],[287,30],[290,25],[295,50],[300,82],[304,92],[308,89.67]];
const adxMain = [[0,35],[7,27],[19,14],[31,26],[43,40],[51,49],[57,46],[66,27],[76,20],[85,38],[92,55],[97,50],[104,31],[114,14],[123,8],[133,9],[142,14],[154,9],[166,20],[173,27],[180,19],[190,9],[199,14],[209,22],[218,14],[228,10],[237,14],[245,30],[252,35],[259,30],[266,52],[269,60],[275,43],[285,16],[292,11],[297,26],[302,48],[305,57],[308,62.72]];
const adxPlus = [[0,33],[5,35],[12,25],[20,18],[28,30],[36,26],[42,38],[49,40],[54,22],[60,28],[66,18],[72,10],[78,22],[84,12],[88,8],[92,7],[97,20],[104,35],[110,28],[114,26],[120,24],[126,28],[133,26],[140,30],[147,27],[154,28],[160,24],[166,33],[171,38],[176,30],[182,25],[188,22],[195,26],[202,28],[207,33],[213,30],[220,24],[228,22],[236,28],[242,40],[247,42],[252,30],[258,22],[262,12],[266,7],[270,10],[276,18],[282,20],[287,14],[292,18],[297,30],[302,43],[305,40],[308,32.5]];
const adxMinus = [[0,20],[8,28],[14,35],[21,35],[26,28],[31,14],[38,20],[44,12],[50,9],[56,22],[62,20],[68,35],[73,38],[80,26],[85,40],[89,48],[92,53],[96,40],[104,14],[110,20],[116,28],[124,20],[130,22],[137,18],[142,30],[150,25],[158,20],[164,24],[170,12],[176,16],[183,24],[190,30],[196,22],[204,18],[210,14],[218,20],[226,26],[232,22],[240,12],[248,9],[254,22],[260,34],[264,44],[268,46],[272,35],[278,26],[284,30],[288,38],[292,30],[298,16],[303,8],[308,4.66]];
const rsi = [[0,55],[10,60],[20,42],[30,62],[40,60],[48,70],[52,68],[55,50],[60,60],[65,52],[70,45],[75,40],[80,48],[85,36],[90,30],[93,33],[100,48],[105,62],[110,58],[115,44],[120,55],[125,58],[130,50],[135,60],[140,55],[145,48],[150,55],[155,60],[160,50],[165,55],[170,68],[175,60],[180,55],[185,58],[190,52],[195,45],[200,62],[205,52],[210,62],[215,58],[220,52],[225,55],[230,45],[235,48],[240,58],[245,68],[250,70],[252,60],[255,55],[260,45],[265,34],[268,32],[272,42],[275,45],[280,52],[285,45],[287,38],[290,42],[295,55],[300,68],[304,68],[308,70.7]];

// ---------- CHART ----------
const chart = echarts.init(document.getElementById('c'), null, {renderer:'canvas', width:2984, height:1597});
const XMIN = -0.125, XMAX = 363.875;
const AX_FONT = 'DejaVu Sans';
const TXT_FONT = '"Liberation Sans", Arial, sans-serif';
const vgrid = []; for (let i = 0; i <= 360; i += 4) vgrid.push(i);

const gridBase = {left:2, right:70, show:true, borderColor:'#000', borderWidth:1, backgroundColor:'#fff'};
const grids = [
  Object.assign({top:1, height:1269}, gridBase),
  Object.assign({top:1273, height:95}, gridBase),
  Object.assign({top:1372, height:107}, gridBase),
  Object.assign({top:1481, height:92}, gridBase)
];
const dash = {color:'#c8c8c8', type:[3,3], width:1};
const xAxes = [0,1,2,3].map(k => ({
  type:'value', gridIndex:k, min:XMIN, max:XMAX,
  axisLine:{show:false}, axisTick:{show:false, customValues:vgrid},
  axisLabel:{show:false, customValues:vgrid},
  splitLine:{show:true, lineStyle:dash}
}));
xAxes.push({
  type:'value', gridIndex:3, min:XMIN, max:XMAX, position:'bottom',
  axisLine:{show:true, onZero:false, lineStyle:{color:'#000', width:1}},
  axisTick:{show:true, customValues:tickIdx, length:5, lineStyle:{color:'#000'}},
  axisLabel:{show:true, customValues:tickIdx, hideOverlap:false, align:'left', margin:6,
    formatter:(v)=>tickLabels[Math.round(v/16)] || '',
    fontFamily:'"Liberation Sans Narrow", "DejaVu Sans Condensed", sans-serif', fontSize:12.5, color:'#000'},
  splitLine:{show:false}
});
const yLab = {fontFamily:AX_FONT, fontSize:11, color:'#000', margin:5};
const yAxes = [
  {type:'value', gridIndex:0, position:'right', min:1.3172, max:1.39536,
   axisLine:{show:true, lineStyle:{color:'#000'}},
   axisTick:{show:true, customValues:yTicks, length:4, lineStyle:{color:'#000'}},
   axisLabel:Object.assign({customValues:yTicks, formatter:v=>v.toFixed(5)}, yLab),
   splitLine:{show:true, lineStyle:dash}},
  {type:'value', gridIndex:1, position:'right', min:-7.2, max:107.2,
   axisLine:{show:true, lineStyle:{color:'#000'}},
   axisTick:{show:true, customValues:[20,80], length:4, lineStyle:{color:'#000'}},
   axisLabel:Object.assign({customValues:[0,20,80,100], formatter:v=>v.toFixed(2)}, yLab),
   splitLine:{show:false}},
  {type:'value', gridIndex:2, position:'right', min:-2, max:68.95,
   axisLine:{show:true, lineStyle:{color:'#000'}},
   axisTick:{show:false},
   axisLabel:Object.assign({customValues:[0,25,68.95],
     formatter:v=>Math.abs(v-25)<1e-6 ? '{hl|25.00}' : v.toFixed(2),
     rich:{hl:{backgroundColor:'#000', color:'#fff', padding:[2,4,1,4], fontFamily:AX_FONT, fontSize:11}}}, yLab),
   splitLine:{show:false}},
  {type:'value', gridIndex:3, position:'right', min:-7.6, max:108.9,
   axisLine:{show:true, lineStyle:{color:'#000'}},
   axisTick:{show:true, customValues:[20,50,80], length:4, lineStyle:{color:'#000'}},
   axisLabel:Object.assign({customValues:[0,20,50,80,100], formatter:v=>v.toFixed(2)}, yLab),
   splitLine:{show:false}}
];

function lineS(data, color, width, opts) {
  return Object.assign({type:'line', xAxisIndex:0, yAxisIndex:0, data:data, symbol:'none', silent:true,
    smooth:false, clip:true, animation:false, z:3, lineStyle:{color:color, width:width}}, opts || {});
}
const noSym = ['none','none'];

const series = [
  // grey consolidation box
  {type:'line', xAxisIndex:0, yAxisIndex:0, data:[], silent:true, z:1,
   markArea:{silent:true, itemStyle:{color:'rgba(150,150,150,0.42)'},
     data:[[{coord:boxZone[0]},{coord:boxZone[1]}]]}},
  // fibo + last price thin lines
  {type:'line', xAxisIndex:0, yAxisIndex:0, data:[], silent:true, z:2,
   markLine:{silent:true, symbol:noSym, animation:false, precision:6,
     data: fiboLevels.map(f => ({yAxis:f[0], lineStyle:{color:'#8c8c8c', width:1, type:'solid'},
        label:{show:true, position:'insideEndTop', formatter:f[1], color:'#8c8c8c', fontFamily:AX_FONT, fontSize:11, distance:[2,1]}}))
       .concat([{yAxis:lastPrice, lineStyle:{color:'#778899', width:1, type:'solid'},
        label:{show:true, position:'end', formatter:lastPrice.toFixed(5), color:'#fff', backgroundColor:'#778899',
          padding:[2,3,1,3], fontFamily:AX_FONT, fontSize:11, distance:4}}])}},
  // bollinger
  lineS(bbUpper, '#ff8c00', 1), lineS(bbMid, '#ff8c00', 1), lineS(bbLower, '#ff8c00', 1),
  // SMAs
  lineS(sma200, '#ff00ff', 1), lineS(sma100, '#a45ed6', 1), lineS(sma50, '#4682b4', 1),
  // black S/R lines
  {type:'line', xAxisIndex:0, yAxisIndex:0, data:[], silent:true, z:4,
   markLine:{silent:true, symbol:noSym, animation:false, precision:6, label:{show:false},
     lineStyle:{color:'#000', width:2, type:'solid'},
     data: srLevels.map(v => ({yAxis:v})).concat([[{coord:novHigh},{coord:[XMAX, novHigh[1]]}]])}},
  // trendlines
  lineS(julTrend, '#0000ff', 2, {z:4}), lineS(novTrend, '#ff1493', 2, {z:4}),
  lineS(chanUpper, '#0000ff', 2, {z:4}), lineS(chanLower, '#0000ff', 2, {z:4}),
  // candles
  {type:'candlestick', xAxisIndex:0, yAxisIndex:0, z:5, silent:true, animation:false, barWidth:4,
   data: ohlc.map((r, i) => [i, r[0], r[1], r[2], r[3]]),
   itemStyle:{color:'#008000', color0:'#ff0000', borderColor:'#008000', borderColor0:'#ff0000', borderWidth:1}},
  // stochastic
  lineS(stochD, '#ff0000', 1, {xAxisIndex:1, yAxisIndex:1, lineStyle:{color:'#ff0000', width:1.5, type:[2,3]},
    markLine:{silent:true, symbol:noSym, animation:false, precision:6, label:{show:false},
      lineStyle:{color:'#c0c0c0', width:1, type:[4,4]}, data:[{yAxis:80},{yAxis:20}]}}),
  lineS(stochK, '#483d8b', 1, {xAxisIndex:1, yAxisIndex:1}),
  // ADX
  lineS(adxMinus, '#ff0000', 1, {xAxisIndex:2, yAxisIndex:2,
    markLine:{silent:true, symbol:noSym, animation:false, precision:6, label:{show:false},
      lineStyle:{color:'#000', width:1, type:[3,3]}, data:[{yAxis:25}]}}),
  lineS(adxPlus, '#3cd070', 1, {xAxisIndex:2, yAxisIndex:2}),
  lineS(adxMain, '#4848e8', 1, {xAxisIndex:2, yAxisIndex:2}),
  // RSI
  lineS(rsi, '#483d8b', 1, {xAxisIndex:3, yAxisIndex:3,
    markLine:{silent:true, symbol:noSym, animation:false, precision:6, label:{show:false},
      lineStyle:{color:'#000080', width:1, type:[4,3]}, data:[{yAxis:80},{yAxis:50},{yAxis:20}]}})
];

function txt(x, y, text, size, color, extra) {
  return {type:'text', x:x, y:y, silent:true, z:100,
    style:Object.assign({text:text, font:size + 'px ' + TXT_FONT, fill:color, verticalAlign:'middle', align:'left'}, extra || {})};
}
const smallFont = '12px ' + TXT_FONT;
const graphics = [
  {type:'text', x:6, y:12, z:100, silent:true, style:{text:'USDCAD, Daily:  US Dollar vs Canadian Dollar', font:smallFont, fill:'#000', verticalAlign:'middle'}},
  {type:'text', x:6, y:1283, z:100, silent:true, style:{text:'Stoch(20,5,5) 93.61 89.67', font:smallFont, fill:'#000', verticalAlign:'middle'}},
  {type:'text', x:6, y:1382, z:100, silent:true, style:{text:'ADX(14) 62.72 32.50 4.66', font:smallFont, fill:'#000', verticalAlign:'middle'}},
  {type:'text', x:6, y:1490, z:100, silent:true, style:{text:'RSI(14) 70.70', font:smallFont, fill:'#000', verticalAlign:'middle'}},
  // right-side notes
  txt(2570, 80, '1.3898 – Nov 1, 2023 high', 20, '#000'),
  txt(2570, 228, '1.3807-1.3854 – Sep & Oct 2022 highs', 20, '#000'),
  txt(2570, 395, '1.3704 – Dec 16, 2022 high', 20, '#000'),
  txt(2570, 487, '1.3624-1.3663 – 100-', 20, '#000'),
  txt(2570, 515, '200-day SMAs', 20, '#000'),
  txt(2570, 587, '1.3602-1.3605 – 23.6% Fibo', 20, '#000'),
  txt(2570, 616, '& 50-day SMA', 20, '#000'),
  txt(2570, 750, '1.3504 – Oct 4, 2022 low', 20, '#000'),
  txt(2570, 929, '1.3375 – 38.2% Fibo', 20, '#000'),
  txt(2570, 1126, '1.3190-1.3222 – Jul 14, 2022 high,', 20, '#000'),
  txt(2570, 1157, 'Nov 15, 2022 low & 50% Fibo', 20, '#000'),
  txt(2555, 1352, 'Stochastic – at the top of its OB area', 20, '#000'),
  txt(2555, 1423, 'ADX – bullish trend still strong', 20, '#000'),
  txt(2555, 1515, 'RSI – strong bullish pressure', 20, '#000'),
  // left notes
  txt(594, 304, 'Nov 1, 2023 trendline', 21, '#ff1493'),
  txt(586, 484, '50-day SMA', 21, '#4682b4'),
  txt(444, 792, '100-day SMA', 21, '#b060d8'),
  txt(258, 820, '200-day SMA', 21, '#ff00ff'),
  txt(115, 996, 'Jul 14, 2023 upward sloping trendline', 21, '#0000ff'),
  txt(1179, 872, 'Trend channel', 21, '#0000ff'),
  txt(1151, 1099, 'USDCAD - Daily chart', 77, '#000')
];

chart.setOption({
  animation:false,
  backgroundColor:'#fff',
  grid:grids, xAxis:xAxes, yAxis:yAxes, series:series, graphic:graphics
});
</script></body></html>
